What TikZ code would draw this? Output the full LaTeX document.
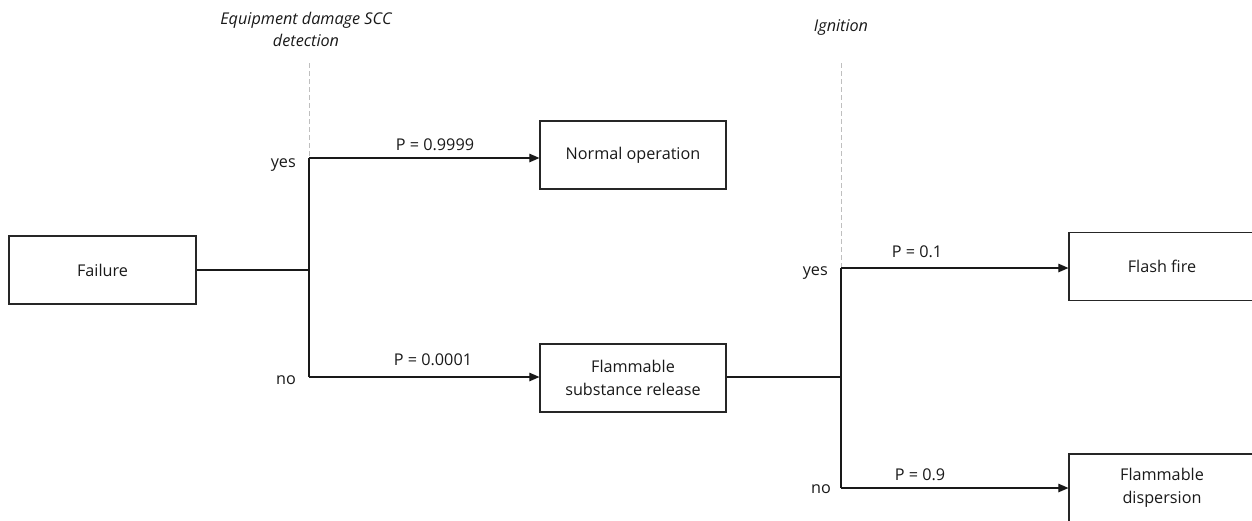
\documentclass[tikz,border=0pt]{standalone}
\usepackage{fontspec}
\setmainfont{Open Sans}
\usetikzlibrary{arrows.meta}
\begin{document}
\begin{tikzpicture}[x=1pt,y=-1pt,
  box/.style={draw=black!85,line width=1.2pt,minimum width=186pt,minimum height=68pt,align=center,inner sep=2pt,font=\fontsize{16.2}{23}\selectfont,text=black!90},
  lbl/.style={font=\fontsize{16.2}{23}\selectfont,text=black!90,inner sep=0pt},
  ttl/.style={font=\fontsize{16.2}{22}\selectfont\itshape,text=black!90,align=center,inner sep=0pt},
  conn/.style={line width=1.1pt,draw=black!90},
  arr/.style={conn,-{Triangle[length=10pt,width=8.5pt]}},
  guide/.style={draw=black!25,line width=0.8pt,dash pattern=on 5pt off 3pt}]
\useasboundingbox (0,0) rectangle (1252,520);
\clip (0,0) rectangle (1252,520);
% boxes
\node[box,minimum width=187pt] (fail) at (102.5,270) {Failure};
\node[box] (norm) at (633,155) {Normal operation};
\node[box] (rel) at (633,378) {Flammable\\substance release};
\node[box] (fire) at (1162,266.5) {Flash fire};
\node[box] (disp) at (1162,488) {Flammable\\dispersion};
% branch coordinates
\coordinate (b1) at (309,270);
\coordinate (b1y) at (309,158);
\coordinate (b1n) at (309,377);
\coordinate (g1) at (309,63);
\coordinate (b2) at (841,377);
\coordinate (b2y) at (841,268);
\coordinate (b2n) at (841,488);
\coordinate (g2) at (841,63);
% titles
\node[ttl] (t1) at (306,29) {Equipment damage SCC\\detection};
\node[ttl] (t2) at (841,27) {Ignition};
% guides
\draw[guide] (g1) -- (b1y);
\draw[guide] (g2) -- (b2y);
% connectors
\draw[conn] (fail.east |- b1) -- (b1);
\draw[conn] (b1y) -- (b1n);
\draw[arr] (b1y) -- (b1y -| norm.west);
\draw[arr] (b1n) -- (b1n -| rel.west);
\draw[conn] (rel.east |- b2) -- (b2);
\draw[conn] (b2y) -- (b2n);
\draw[arr] (b2y) -- (b2y -| fire.west);
\draw[arr] (b2n) -- (b2n -| disp.west);
% labels
\node[lbl,anchor=east] (y1) at (296,165) {yes};
\node[lbl,anchor=east] (n1) at (296,380) {no};
\node[lbl,anchor=east] (y2) at (828,273) {yes};
\node[lbl,anchor=east] (n2) at (831,489) {no};
\node[lbl] (p1) at (435,145) {P = 0.9999};
\node[lbl] (p2) at (433,360) {P = 0.0001};
\node[lbl] (p3) at (917,252) {P = 0.1};
\node[lbl] (p4) at (920,475) {P = 0.9};
\end{tikzpicture}
\end{document}
